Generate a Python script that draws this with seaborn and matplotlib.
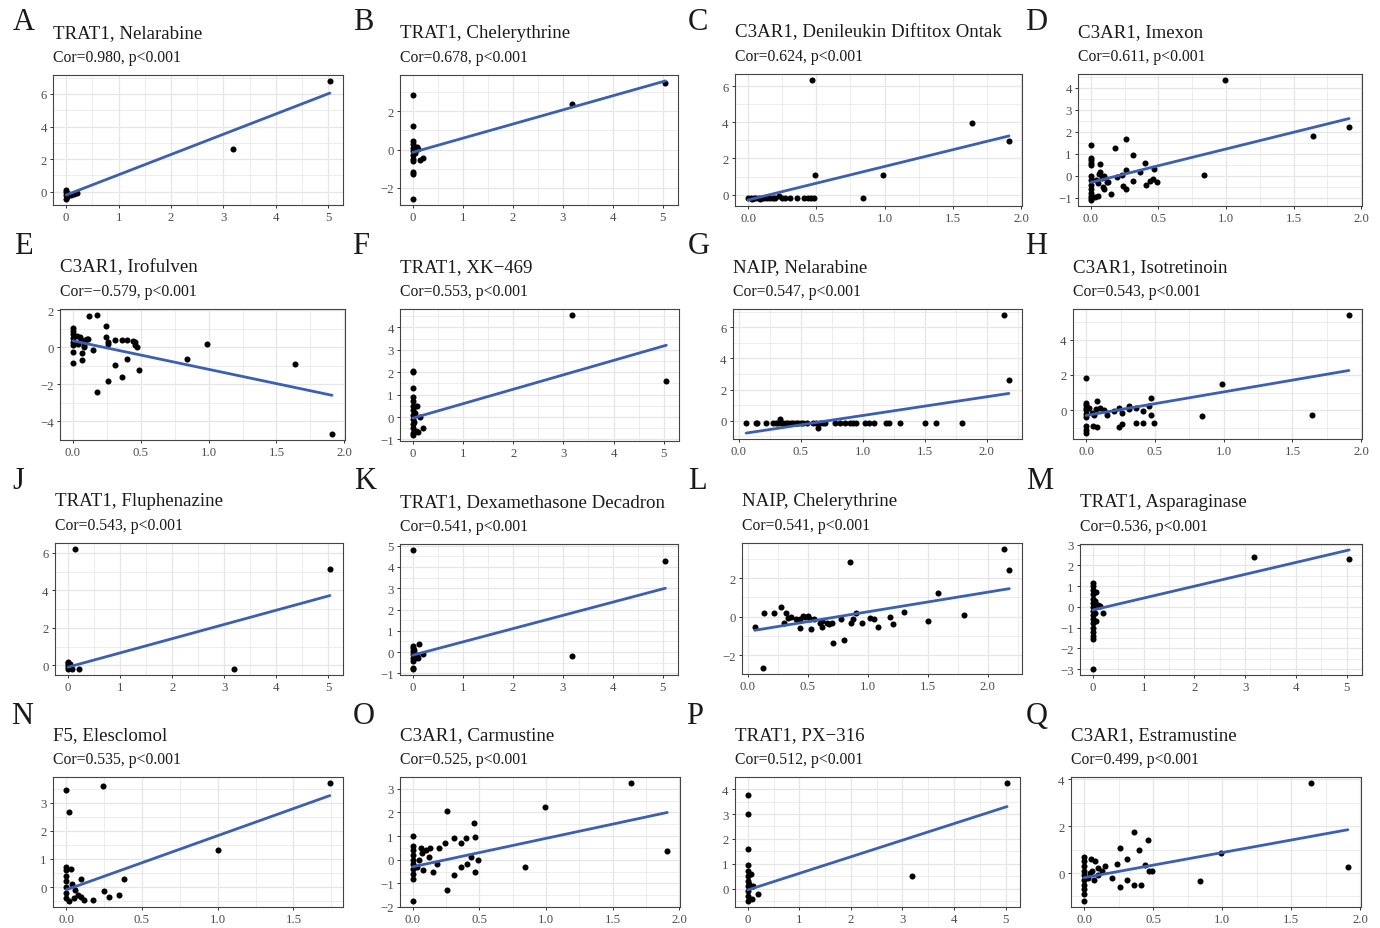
import matplotlib
matplotlib.use("Agg")
import matplotlib.pyplot as plt
import seaborn as sns
import numpy as np
from matplotlib.ticker import FixedLocator, AutoMinorLocator, FuncFormatter

MINUS = "\u2212"

# ---------------- data ----------------
labels = ["A", "B", "C", "D", "E", "F", "G", "H", "J", "K", "L", "M", "N", "O", "P", "Q"]
titles = ["TRAT1, Nelarabine", "TRAT1, Chelerythrine", "C3AR1, Denileukin Diftitox Ontak",
          "C3AR1, Imexon", "C3AR1, Irofulven", "TRAT1, XK\u2212469", "NAIP, Nelarabine",
          "C3AR1, Isotretinoin", "TRAT1, Fluphenazine", "TRAT1, Dexamethasone Decadron",
          "NAIP, Chelerythrine", "TRAT1, Asparaginase", "F5, Elesclomol", "C3AR1, Carmustine",
          "TRAT1, PX\u2212316", "C3AR1, Estramustine"]
cors = [0.980, 0.678, 0.624, 0.611, -0.579, 0.553, 0.547, 0.543,
        0.543, 0.541, 0.541, 0.536, 0.535, 0.525, 0.512, 0.499]

# fitted line: intercept, slope
fit_intercept = [-0.20, -0.15, -0.30, -0.30, 0.35, -0.05, -0.872, -0.30,
                 -0.10, -0.15, -0.761, -0.15, -0.10, -0.30, -0.05, -0.20]
fit_slope = [1.243, 0.743, 1.859, 1.518, -1.545, 0.644, 1.203, 1.335,
             0.759, 0.624, 1.014, 0.574, 1.925, 1.204, 0.666, 1.073]

int_ticks = [0, 1, 2, 3, 4, 5]
half_ticks = [0.0, 0.5, 1.0, 1.5, 2.0]
x_ticks = [int_ticks, int_ticks, half_ticks, half_ticks, half_ticks, int_ticks, half_ticks, half_ticks,
           int_ticks, int_ticks, half_ticks, int_ticks, [0.0, 0.5, 1.0, 1.5], half_ticks, int_ticks, half_ticks]
y_ticks = [[0, 2, 4, 6], [-2, 0, 2], [0, 2, 4, 6], [-1, 0, 1, 2, 3, 4], [-4, -2, 0, 2], [-1, 0, 1, 2, 3, 4],
           [0, 2, 4, 6], [0, 2, 4], [0, 2, 4, 6], [-1, 0, 1, 2, 3, 4, 5], [-2, 0, 2], [-3, -2, -1, 0, 1, 2, 3],
           [0, 1, 2, 3], [-2, -1, 0, 1, 2, 3], [0, 1, 2, 3, 4], [0, 2, 4]]

a_x = [5.03, 3.18, 0, 0, 0, 0, 0.05, 0.10, 0.15, 0.20, 0.02]
a_y = [6.80, 2.60, 0.10, -0.20, -0.45, 0.00, -0.15, -0.20, -0.15, -0.10, -0.30]

b_x = [5.05, 3.18, 0, 0, 0, 0, 0, 0, 0, 0, 0, 0, 0, 0, 0.05, 0.08, 0.10, 0.15, 0.20, 0.05, 0.02]
b_y = [3.50, 2.40, 2.85, 1.25, 0.45, 0.30, 0.10, -0.10, -0.30, -0.50, -0.60, -1.20, -1.30, -2.60,
       0.10, 0.15, 0.05, -0.55, -0.45, -0.20, 0.00]

c_x = [0.47, 1.64, 1.91, 0.49, 0.99, 0.84, 0, 0.02, 0.04, 0.06, 0.08, 0.10, 0.12, 0.14, 0.16, 0.18,
       0.20, 0.23, 0.25, 0.27, 0.31, 0.36, 0.41, 0.44, 0.46, 0.48, 0.03, 0.09]
c_y = [6.35, 3.95, 2.95, 1.10, 1.10, -0.20, -0.20, -0.20, -0.20, -0.20, -0.20, -0.20, -0.20, -0.20,
       -0.20, -0.20, -0.20, -0.10, -0.20, -0.20, -0.20, -0.20, -0.20, -0.20, -0.20, -0.20, -0.25, -0.25]

d_x = [0.99, 1.91, 1.64, 0.84, 0, 0, 0, 0, 0, 0, 0, 0, 0, 0, 0, 0, 0, 0.07, 0.07, 0.10, 0.08, 0.05,
       0.09, 0.10, 0.05, 0.03, 0.13, 0.15, 0.18, 0.19, 0.23, 0.24, 0.26, 0.26, 0.26, 0.31, 0.31, 0.36,
       0.40, 0.41, 0.44, 0.46, 0.47, 0.49, 0.12, 0.04, 0.06]
d_y = [4.35, 2.20, 1.80, 0.05, 1.40, 0.80, 0.70, 0.60, 0.50, 0.00, -0.20, -0.40, -0.60, -0.80, -0.90,
       -1.00, -1.10, 0.55, 0.15, 0.00, -0.10, -0.35, -0.50, -0.60, -0.90, -0.95, -0.30, -0.85, 1.25,
       -0.05, 0.05, -0.45, 1.65, 0.25, -0.60, 0.95, -0.25, 0.15, 0.60, -0.40, -0.25, -0.15, 0.30, -0.30,
       -0.30, -0.20, 0.10]

e_x = [1.91, 1.64, 0.99, 0.84, 0.12, 0.18, 0.18, 0.24, 0.24, 0.26, 0.26, 0.26, 0.31, 0.31, 0.36, 0.36,
       0.40, 0.40, 0.44, 0.46, 0.46, 0.47, 0.49, 0.15, 0, 0, 0, 0, 0, 0, 0, 0, 0.03, 0.05, 0.06, 0.07,
       0.07, 0.08, 0.09, 0.10, 0.11, 0.04, 0.08]
e_y = [-4.70, -0.90, 0.20, -0.65, 1.70, 1.75, -2.40, 1.15, 0.55, 0.30, 0.15, -1.80, 0.40, -0.95, 0.40,
       -1.60, 0.40, -0.65, 0.35, 0.30, 0.10, 0.00, -1.25, -0.15, 1.05, 0.90, 0.70, 0.50, 0.30, 0.10,
       -0.25, -0.85, 0.60, 0.55, 0.40, -0.30, -0.70, 0.10, 0.40, 0.45, 0.45, 0.20, 0.00]

f_x = [3.18, 5.05, 0, 0, 0, 0, 0, 0, 0, 0, 0, 0, 0, 0, 0, 0.05, 0.08, 0.10, 0.07, 0.20, 0.15, 0.05, 0.03]
f_y = [4.55, 1.60, 2.05, 2.00, 1.30, 0.90, 0.70, 0.50, 0.30, 0.10, -0.10, -0.30, -0.50, -0.70, -0.80,
       0.50, 0.50, -0.65, -0.60, -0.50, 0.00, 0.20, -0.20]

g_x = [2.14, 2.18, 0.33, 0.64, 0.06, 0.14, 0.15, 0.22, 0.28, 0.30, 0.32, 0.34, 0.36, 0.38, 0.40, 0.42,
       0.44, 0.46, 0.48, 0.50, 0.52, 0.55, 0.60, 0.62, 0.66, 0.68, 0.70, 0.78, 0.82, 0.86, 0.90, 0.92,
       0.95, 1.02, 1.05, 1.09, 1.19, 1.21, 1.30, 1.50, 1.59, 1.80]
g_y = [6.80, 2.60, 0.10, -0.45, -0.15, -0.15, -0.15, -0.15, -0.15, -0.15, -0.15, -0.15, -0.15, -0.15,
       -0.15, -0.15, -0.15, -0.15, -0.15, -0.15, -0.15, -0.15, -0.15, -0.15, -0.15, -0.15, -0.15, -0.15,
       -0.15, -0.15, -0.15, -0.15, -0.15, -0.15, -0.15, -0.15, -0.15, -0.15, -0.15, -0.15, -0.15, -0.15]

h_x = [1.91, 0.99, 0, 0.84, 1.64, 0.47, 0.08, 0.49, 0.41, 0.36, 0.26, 0.24, 0.08, 0.05, 0, 0, 0, 0, 0,
       0, 0, 0, 0, 0.47, 0.46, 0.41, 0.36, 0.31, 0.31, 0.26, 0.24, 0.20, 0.15, 0.13, 0.10, 0.07, 0.06,
       0.04, 0.02]
h_y = [5.40, 1.50, 1.80, -0.35, -0.25, 0.70, 0.50, -0.70, -0.70, -0.75, -0.80, -0.95, -0.95, -0.90,
       -1.30, -1.10, -0.90, 0.40, 0.30, 0.15, 0.00, -0.20, -0.40, -0.25, 0.25, -0.05, 0.10, 0.25, 0.05,
       -0.15, 0.15, -0.05, -0.30, 0.00, 0.10, 0.05, -0.30, -0.15, 0.10]

j_x = [0.13, 5.03, 3.18, 0.20, 0, 0, 0, 0, 0, 0.05, 0.08, 0.03]
j_y = [6.20, 5.15, -0.20, -0.20, 0.20, 0.10, 0.00, -0.10, -0.20, -0.15, -0.20, 0.05]

k_x = [0, 5.05, 3.18, 0.13, 0.20, 0, 0, 0, 0, 0, 0, 0, 0, 0.05, 0.10, 0.08, 0.03]
k_y = [4.80, 4.30, -0.20, 0.40, -0.10, 0.30, 0.20, 0.05, -0.10, -0.30, -0.40, -0.75, -0.80, -0.30,
       -0.30, -0.15, 0.10]

l_x = [2.14, 2.18, 0.85, 1.59, 1.80, 1.50, 1.30, 1.21, 1.19, 1.09, 1.05, 1.02, 0.95, 0.90, 0.88, 0.86,
       0.80, 0.78, 0.71, 0.70, 0.68, 0.66, 0.62, 0.62, 0.60, 0.55, 0.53, 0.52, 0.50, 0.48, 0.46, 0.44,
       0.44, 0.42, 0.40, 0.36, 0.34, 0.32, 0.30, 0.28, 0.22, 0.14, 0.13, 0.06]
l_y = [3.50, 2.40, 2.85, 1.25, 0.10, -0.20, 0.25, -0.40, 0.00, -0.55, -0.10, -0.05, -0.30, 0.20, -0.10,
       -0.30, -1.20, -0.10, -1.35, -0.30, -0.40, -0.30, -0.20, -0.55, -0.30, -0.10, -0.65, -0.10, 0.05,
       0.00, 0.05, -0.10, -0.60, -0.15, -0.10, 0.00, -0.05, 0.20, -0.30, 0.50, 0.20, 0.20, -2.65, -0.55]

m_x = [3.18, 5.05, 0, 0, 0, 0, 0, 0, 0, 0, 0, 0, 0, 0, 0, 0, 0, 0, 0.07, 0.07, 0.10, 0.15, 0.20, 0.05,
       0.04]
m_y = [2.40, 2.30, -3.00, 1.15, 1.00, 0.80, 0.60, 0.40, 0.20, 0.00, -0.20, -0.40, -0.60, -0.80, -1.00,
       -1.20, -1.40, -1.55, 0.70, -0.70, 0.10, 0.05, -0.30, 0.30, -0.30]

n_x = [1.74, 1.00, 0.24, 0, 0.02, 0.38, 0.35, 0.25, 0.28, 0.18, 0.10, 0, 0, 0.03, 0, 0, 0, 0, 0, 0.05,
       0.08, 0.10, 0.12, 0.06, 0.04, 0.02]
n_y = [3.70, 1.30, 3.60, 3.45, 2.65, 0.30, -0.30, -0.15, -0.35, -0.45, 0.30, 0.70, 0.60, 0.65, 0.40,
       0.20, 0.00, -0.20, -0.40, -0.40, -0.30, -0.35, -0.45, -0.10, 0.10, -0.50]

o_x = [1.64, 0.99, 0.84, 1.91, 0, 0.26, 0.46, 0.47, 0.40, 0.36, 0.31, 0.24, 0.20, 0.13, 0.10, 0.07, 0.05,
       0, 0, 0, 0, 0, 0, 0, 0, 0, 0.26, 0.31, 0.36, 0.41, 0.44, 0.49, 0.47, 0.15, 0.18, 0.08, 0.03, 0.06,
       0.12]
o_y = [3.25, 2.25, -0.30, 0.35, -1.75, 2.05, 1.55, 0.95, 0.90, 0.70, 0.90, 0.70, 0.50, 0.50, 0.40, 0.30,
       0.00, 1.00, 0.60, 0.40, 0.20, 0.00, -0.20, -0.40, -0.60, -0.80, -1.30, -0.65, -0.30, -0.20, 0.10,
       0.00, -0.50, -0.50, -0.20, -0.45, -0.30, 0.50, 0.10]

p_x = [5.03, 3.18, 0, 0, 0, 0, 0, 0, 0, 0, 0, 0, 0, 0.05, 0.10, 0.20, 0.07, 0.03]
p_y = [4.25, 0.50, 3.75, 3.00, 1.60, 0.95, 0.70, 0.50, 0.30, 0.10, -0.10, -0.30, -0.50, 0.60, 0.10,
       -0.20, -0.40, 0.20]

q_x = [1.64, 0.99, 0.84, 1.91, 0.36, 0.46, 0.26, 0.40, 0.31, 0.24, 0.44, 0.47, 0.49, 0.41, 0.36, 0.31,
       0.26, 0.20, 0.15, 0.13, 0.10, 0.08, 0.05, 0.07, 0, 0, 0, 0, 0, 0, 0, 0, 0, 0, 0.03, 0.04, 0.06, 0.10]
q_y = [3.85, 0.85, -0.35, 0.25, 1.75, 1.40, 1.05, 1.00, 0.60, 0.40, 0.35, 0.10, 0.10, -0.50, -0.50,
       -0.30, -0.60, -0.20, 0.30, 0.10, 0.20, 0.50, 0.60, -0.30, 0.70, 0.50, 0.30, 0.10, -0.10, -0.30,
       -0.50, -0.70, -0.90, -1.20, -0.20, 0.00, 0.10, -0.10]

xs = [a_x, b_x, c_x, d_x, e_x, f_x, g_x, h_x, j_x, k_x, l_x, m_x, n_x, o_x, p_x, q_x]
ys = [a_y, b_y, c_y, d_y, e_y, f_y, g_y, h_y, j_y, k_y, l_y, m_y, n_y, o_y, p_y, q_y]

# ---------------- layout (pixel boxes: left, top, right, bottom) ----------------
W, H = 1380, 929
boxes = [(53, 76, 343, 206), (400, 76, 678, 206), (735, 75, 1022, 207), (1078, 75, 1362, 207),
         (60, 310, 345, 441), (400, 310, 679, 442), (733, 310, 1022, 440), (1073, 310, 1362, 440),
         (55, 544, 343, 676), (400, 545, 678, 676), (742, 544, 1022, 675), (1080, 545, 1362, 676),
         (53, 778, 343, 908), (400, 778, 680, 908), (735, 778, 1020, 908), (1071, 778, 1361, 908)]
letter_pos = [(24, 22), (363, 22), (698, 22), (1036, 22),
              (23, 247), (361, 247), (699, 247), (1036, 247),
              (18, 482), (365, 482), (697, 482), (1040, 482),
              (22, 717), (364, 717), (695, 717), (1037, 717)]

sns.set_theme(style="white")
plt.rcParams["font.family"] = ["Liberation Serif", "DejaVu Serif"]
plt.rcParams["axes.unicode_minus"] = True

LINE_COLOR = "#3A5FB5"
GRID = "#E6E6E6"

fig = plt.figure(figsize=(W / 100, H / 100), dpi=100)
fig.patch.set_facecolor("white")


def fmt_factory(dec):
    def f(v, pos):
        s = f"{v:.{dec}f}"
        return s.replace("-", MINUS)
    return FuncFormatter(f)


for i in range(16):
    l, t, r, b = boxes[i]
    ax = fig.add_axes([l / W, 1 - b / H, (r - l) / W, (b - t) / H])
    x = np.array(xs[i], dtype=float)
    y = np.array(ys[i], dtype=float)
    x0, x1 = x.min(), x.max()
    lx = np.array([x0, x1])
    ly = fit_intercept[i] + fit_slope[i] * lx

    ax.set_axisbelow(True)
    sns.scatterplot(x=x, y=y, ax=ax, color="black", s=19, linewidth=0, zorder=3)
    sns.lineplot(x=lx, y=ly, ax=ax, color=LINE_COLOR, linewidth=2.0, estimator=None, zorder=4)

    # ggplot-like 5% expansion
    ymin = min(y.min(), ly.min()); ymax = max(y.max(), ly.max())
    xr = x1 - x0; yr = ymax - ymin
    ax.set_xlim(x0 - 0.05 * xr, x1 + 0.05 * xr)
    ax.set_ylim(ymin - 0.05 * yr, ymax + 0.05 * yr)

    xt = x_ticks[i]
    xdec = 0 if (xt[1] - xt[0]) >= 1 else 1
    ax.xaxis.set_major_locator(FixedLocator(xt))
    ax.yaxis.set_major_locator(FixedLocator(y_ticks[i]))
    ax.xaxis.set_major_formatter(fmt_factory(xdec))
    ax.yaxis.set_major_formatter(fmt_factory(0))
    ax.xaxis.set_minor_locator(AutoMinorLocator(2))
    ax.yaxis.set_minor_locator(AutoMinorLocator(2))

    ax.grid(True, which="major", color=GRID, linewidth=0.9)
    ax.grid(True, which="minor", color=GRID, linewidth=0.5)
    ax.tick_params(axis="both", which="major", direction="out", length=2.5, width=0.7,
                   color="#333333", labelsize=9.2, labelcolor="#4D4D4D", pad=2,
                   bottom=True, left=True)
    ax.tick_params(axis="both", which="minor", length=0)
    for sp in ax.spines.values():
        sp.set_color("#444444")
        sp.set_linewidth(0.8)
    ax.set_xlabel("")
    ax.set_ylabel("")
    ax.set_facecolor("white")

    # titles
    fig.text(l / W, 1 - (t - 42) / H, titles[i], fontsize=13.6, ha="left", va="center", color="#1A1A1A")
    sub = f"Cor={cors[i]:.3f}, p<0.001".replace("-", MINUS)
    fig.text(l / W, 1 - (t - 18) / H, sub, fontsize=11.3, ha="left", va="center", color="#1A1A1A")
    lxp, lyp = letter_pos[i]
    fig.text(lxp / W, 1 - lyp / H, labels[i], fontsize=22, ha="center", va="center", color="#1A1A1A")

fig.savefig("out.png", dpi=100, facecolor="white")
